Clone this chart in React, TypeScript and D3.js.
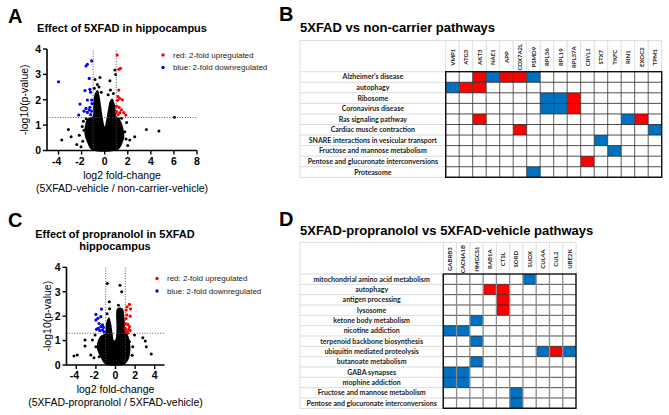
import React from "react";
import * as d3 from "d3";

type P = [number, number];

// ---------- Panel A: volcano (5XFAD vs non-carrier) ----------
const aCloud: P[] = [
  [-1.1, 0.02], [-1.5, 0.3], [-1.75, 0.65], [-1.7, 1.0], [-1.5, 1.25], [-1.05, 1.35],
  [-1.0, 1.7], [-0.95, 2.05], [-0.8, 2.3], [-0.6, 2.38], [-0.45, 2.15], [-0.3, 1.7],
  [-0.15, 1.25], [0.0, 0.95], [0.15, 1.25], [0.3, 1.65], [0.45, 1.95], [0.65, 2.05],
  [0.85, 1.85], [0.97, 1.55], [1.0, 1.35], [1.35, 1.2], [1.6, 0.9], [1.7, 0.55],
  [1.5, 0.25], [1.1, 0.02],
];
const aBlack: P[] = [
  [-3.72, 0.41], [-3.15, 0.83], [-2.91, 0.54], [-2.42, 0.24], [-1.9, 0.36], [-2.2, 0.6],
  [-1.95, 0.95], [-1.85, 1.15], [-1.6, 1.25], [-2.05, 0.15], [-1.8, 0.8], [3.61, 0.83],
  [4.7, 0.77], [6.05, 1.31], [2.6, 0.54], [2.17, 0.41], [1.74, 0.74], [1.46, 1.27],
  [1.9, 1.1], [2.0, 0.2], [1.85, 0.45], [-0.41, 2.88], [-0.84, 2.8], [0.45, 2.75],
  [0.5, 2.38], [0.88, 3.17], [-0.64, 2.6], [-0.5, 2.5], [0.3, 2.2], [0.75, 2.25],
  [-0.9, 2.45], [-1.2, 1.2], [1.2, 1.25], [-0.3, 2.3], [0.95, 3.0],
];
const aRed: P[] = [
  [1.08, 3.76], [1.22, 3.2], [1.37, 3.24], [1.22, 2.38], [1.16, 2.12], [1.31, 2.05],
  [1.53, 2.0], [1.11, 1.98], [1.02, 1.75], [1.25, 1.7], [1.45, 1.6], [1.02, 1.53],
  [1.31, 1.49], [1.66, 1.49], [1.16, 1.41], [1.83, 1.4],
];
const aBlue: P[] = [
  [-4.0, 2.71], [-1.62, 3.33], [-1.5, 3.4], [-1.13, 3.53], [-1.34, 2.84], [-1.28, 2.41],
  [-1.71, 2.36], [-1.22, 2.3], [-1.5, 1.99], [-1.13, 1.99], [-2.14, 1.83], [-1.62, 1.66],
  [-1.28, 1.7], [-1.5, 1.5], [-2.25, 1.4], [-1.79, 1.55], [-1.34, 1.6], [-1.22, 1.41],
  [-1.1, 1.85], [-1.15, 1.55],
];
const aXTicks = [-4, -2, 0, 2, 4, 6, 8];

// ---------- Panel C: volcano (propranolol in 5XFAD) ----------
const cCloud: P[] = [
  [-1.0, 0.02], [-1.5, 0.3], [-1.9, 0.7], [-1.8, 1.0], [-1.5, 1.2], [-1.05, 1.3],
  [-1.0, 1.6], [-0.85, 1.85], [-0.65, 1.95], [-0.45, 1.7], [-0.3, 1.3], [-0.15, 1.0],
  [0.0, 1.05], [0.1, 1.5], [0.15, 2.3], [0.45, 2.35], [0.75, 2.3], [0.9, 2.0],
  [0.97, 1.6], [1.0, 1.35], [1.3, 1.2], [1.5, 0.85], [1.5, 0.5], [1.3, 0.2], [0.9, 0.02],
];
const cBlack: P[] = [
  [-4.24, 0.37], [-3.9, 0.41], [-3.11, 1.02], [-3.11, 0.78], [-2.52, 0.41], [-2.36, 1.02],
  [-2.0, 0.75], [-2.08, 1.23], [-1.67, 0.34], [-2.2, 0.3], [2.79, 1.12], [3.04, 0.98],
  [3.14, 0.75], [3.65, 0.45], [1.94, 1.23], [1.76, 0.75], [1.42, 0.95], [1.7, 0.4],
  [-0.84, 3.34], [0.46, 3.27], [-0.63, 2.59], [0.63, 3.0], [-0.85, 2.1], [-0.6, 2.3],
  [-1.2, 1.15], [1.2, 1.3], [0.3, 2.45],
];
const cRed: P[] = [
  [1.42, 2.48], [1.18, 2.38], [1.53, 2.3], [1.08, 2.25], [1.15, 2.05], [1.5, 2.0],
  [1.08, 1.9], [1.01, 1.7], [1.25, 1.66], [1.42, 1.57], [1.01, 1.5], [1.35, 1.46],
  [1.08, 1.41], [1.5, 1.41], [1.25, 1.33],
];
const cBlue: P[] = [
  [-1.43, 2.29], [-2.0, 2.07], [-1.8, 1.91], [-2.0, 1.84], [-1.5, 1.98], [-1.67, 1.7],
  [-1.33, 1.64], [-1.77, 1.5], [-1.5, 1.57], [-1.23, 1.54], [-1.6, 1.41], [-1.33, 1.43],
  [-1.16, 1.36], [-1.94, 1.46],
];
const cXTicks = [-4, -2, 0, 2, 4];
const yTicks = [0, 1, 2, 3, 4];

// ---------- Panel B: pathway table ----------
const bGenes = ["VMP1", "ATG3", "AKT3", "NAE1", "APP", "COX7A2L", "PSMD9", "RPL36", "RPL19", "RPL37A", "CRYL1", "STX7", "TKFC", "RIN1", "EXOC2", "TPM1"];
const bPathways = [
  "Alzheimer's disease", "autophagy", "Ribosome", "Coronavirus disease", "Ras signaling pathway",
  "Cardiac muscle contraction", "SNARE interactions in vesicular transport",
  "Fructose and mannose metabolism", "Pentose and glucuronate interconversions", "Proteasome",
];
const bMatrix = [
  "..rbrrb.........",
  "brr.............",
  ".......bbr......",
  ".......bbr......",
  "..r..........br.",
  ".....r.........b",
  "...........b....",
  "............b...",
  "..........r.....",
  "......b.........",
];

// ---------- Panel D: pathway table ----------
const dGenes = ["GABRB3", "CACNA1B", "HMGCS1", "RAB1A", "CTSL", "SORD", "SUOX", "CUL4A", "CUL2", "UBE2K"];
const dPathways = [
  "mitochondrial amino acid metabolism", "autophagy", "antigen processing", "lysosome",
  "ketone body metabolism", "nicotine addiction", "terpenoid backbone biosynthesis",
  "ubiquitin mediated proteolysis", "butanoate metabolism", "GABA synapses", "mophine addiction",
  "Fructose and mannose metabolism", "Pentose and glucuronate interconversions",
];
const dMatrix = [
  "......b...",
  "...rr.....",
  "....r.....",
  "....r.....",
  "..b.......",
  "bb........",
  "..b.......",
  ".......brb",
  "..b.......",
  "bb........",
  "bb........",
  ".....b....",
  ".....b....",
];

const RED = "#ff0000";
const BLUE = "#0000ff";
const CELL_RED = "#ff0000";
const CELL_BLUE = "#0070c0";
const ARIAL = "'Liberation Sans', Arial, sans-serif";
const TFONT = "Lato, 'Open Sans', sans-serif";

interface VolcanoProps {
  xDomain: [number, number];
  xRange: [number, number];
  yRange: [number, number];
  xTicks: number[];
  cloud: P[];
  black: P[];
  red: P[];
  blue: P[];
  titleLines: string[];
  titleX: number;
  titleY: number;
  xTitle: string[];
  yTitleX: number;
  legendX: number;
  legendY: number;
}

function Volcano(p: VolcanoProps) {
  const x = d3.scaleLinear().domain(p.xDomain).range(p.xRange);
  const y = d3.scaleLinear().domain([0, 4]).range(p.yRange);
  const area = d3
    .line<P>()
    .x((d) => x(d[0]))
    .y((d) => y(d[1]))
    .curve(d3.curveCatmullRomClosed.alpha(0.5));
  const x0 = p.xRange[0];
  const x1 = p.xRange[1];
  const yb = p.yRange[0];
  const yt = p.yRange[1];
  const xMid = (x0 + x1) / 2;
  return (
    <g>
      {p.titleLines.map((t, i) => (
        <text key={t} x={p.titleX} y={p.titleY + i * 11.5} textAnchor="middle" fontFamily={ARIAL} fontWeight="bold" fontSize={11}>
          {t}
        </text>
      ))}
      <path d={area(p.cloud) || ""} fill="#000" />
      {p.black.map((d, i) => (
        <circle key={"k" + i} cx={x(d[0])} cy={y(d[1])} r={1.5} fill="#000" />
      ))}
      <line x1={x(-1)} x2={x(-1)} y1={yb} y2={yt} stroke="#555" strokeWidth={1} strokeDasharray="1 1.6" />
      <line x1={x(1)} x2={x(1)} y1={yb} y2={yt} stroke="#555" strokeWidth={1} strokeDasharray="1 1.6" />
      <line x1={x0} x2={x1} y1={y(1.3)} y2={y(1.3)} stroke="#555" strokeWidth={1} strokeDasharray="1 1.6" />
      {p.red.map((d, i) => (
        <circle key={"r" + i} cx={x(d[0])} cy={y(d[1])} r={1.6} fill={RED} />
      ))}
      {p.blue.map((d, i) => (
        <circle key={"b" + i} cx={x(d[0])} cy={y(d[1])} r={1.6} fill={BLUE} />
      ))}
      <line x1={x0} x2={x0} y1={yb} y2={yt} stroke="#000" strokeWidth={1.6} />
      <line x1={x0 - 1} x2={x1} y1={yb} y2={yb} stroke="#000" strokeWidth={1.6} />
      {yTicks.map((t) => (
        <g key={"yt" + t}>
          <line x1={x0 - 4} x2={x0} y1={y(t)} y2={y(t)} stroke="#000" strokeWidth={1.4} />
          <text x={x0 - 6} y={y(t) + 3.8} textAnchor="end" fontFamily={ARIAL} fontWeight="bold" fontSize={10.5}>
            {t}
          </text>
        </g>
      ))}
      {p.xTicks.map((t) => (
        <g key={"xt" + t}>
          <line x1={x(t)} x2={x(t)} y1={yb} y2={yb + 4} stroke="#000" strokeWidth={1.4} />
          <text x={x(t) - (t < 0 ? 1.8 : 0)} y={yb + 14} textAnchor="middle" fontFamily={ARIAL} fontWeight="bold" fontSize={10.5}>
            {t < 0 ? "-" + Math.abs(t) : String(t)}
          </text>
        </g>
      ))}
      {p.xTitle.map((t, i) => (
        <text key={t} x={xMid} y={yb + 28 + i * 13} textAnchor="middle" fontFamily={ARIAL} fontSize={10.5}>
          {t}
        </text>
      ))}
      <text
        transform={`translate(${p.yTitleX},${(yb + yt) / 2}) rotate(-90)`}
        textAnchor="middle"
        fontFamily={ARIAL}
        fontSize={10.5}
      >
        -log10(p-value)
      </text>
      <circle cx={p.legendX} cy={p.legendY} r={1.7} fill={RED} />
      <text x={p.legendX + 10} y={p.legendY + 2.8} fontFamily={ARIAL} fontSize={8} fill="#222">
        red: 2-fold upregulated
      </text>
      <circle cx={p.legendX} cy={p.legendY + 12.5} r={1.7} fill={BLUE} />
      <text x={p.legendX + 10} y={p.legendY + 15.3} fontFamily={ARIAL} fontSize={8} fill="#222">
        blue: 2-fold downregulated
      </text>
    </g>
  );
}

interface TableProps {
  genes: string[];
  pathways: string[];
  matrix: string[];
  left: number;
  top: number;
  headerBottom: number;
  colStart: number;
  right: number;
  bottom: number;
  vGray: boolean;
}

function PathTable(p: TableProps) {
  const cx = d3.scaleBand<string>().domain(p.genes).range([p.colStart, p.right]);
  const ry = d3.scaleBand<string>().domain(p.pathways).range([p.headerBottom, p.bottom]);
  const bw = cx.bandwidth();
  const bh = ry.bandwidth();
  const labelCenter = (p.left + p.colStart) / 2;
  const cells: { g: string; pw: string; c: string }[] = [];
  p.matrix.forEach((row, ri) => {
    row.split("").forEach((ch, ci) => {
      if (ch !== ".") cells.push({ g: p.genes[ci], pw: p.pathways[ri], c: ch === "r" ? CELL_RED : CELL_BLUE });
    });
  });
  const light = "#d4d4d4";
  return (
    <g>
      <rect x={p.left} y={p.top} width={p.right - p.left} height={p.bottom - p.top} fill="none" stroke={light} strokeWidth={0.8} />
      {p.genes.map((g) => (
        <line key={"hv" + g} x1={cx(g)!} x2={cx(g)!} y1={p.top} y2={p.headerBottom} stroke={light} strokeWidth={0.8} />
      ))}
      {p.pathways.map((pw) => (
        <line key={"lh" + pw} x1={p.left} x2={p.colStart} y1={ry(pw)!} y2={ry(pw)!} stroke={light} strokeWidth={0.8} />
      ))}
      {cells.map((c, i) => (
        <rect key={"c" + i} x={cx(c.g)!} y={ry(c.pw)!} width={bw} height={bh} fill={c.c} />
      ))}
      {p.pathways.map((pw) => (
        <line key={"gh" + pw} x1={p.colStart} x2={p.right} y1={ry(pw)! + bh} y2={ry(pw)! + bh} stroke="#222" strokeWidth={0.8} />
      ))}
      {p.genes.map((g) => (
        <line
          key={"gv" + g}
          x1={cx(g)!}
          x2={cx(g)!}
          y1={p.headerBottom}
          y2={p.bottom}
          stroke={p.vGray ? "#8a8a8a" : "#333"}
          strokeWidth={p.vGray ? 1.3 : 0.8}
        />
      ))}
      <rect x={p.colStart} y={p.headerBottom} width={p.right - p.colStart} height={p.bottom - p.headerBottom} fill="none" stroke="#111" strokeWidth={1.4} />
      {p.genes.map((g) => (
        <text
          key={"gl" + g}
          transform={`translate(${cx(g)! + bw / 2 + 2.2},${(p.top + p.headerBottom) / 2 + 1}) rotate(-90)`}
          textAnchor="middle"
          fontFamily={TFONT}
          fontWeight="bold"
          fontSize={6}
          fill="#222"
        >
          {g}
        </text>
      ))}
      {p.pathways.map((pw) => (
        <text key={"pl" + pw} x={labelCenter} y={ry(pw)! + bh / 2 + 2.5} textAnchor="middle" fontFamily={TFONT} fontWeight="bold" fontSize={7} fill="#222">
          {pw}
        </text>
      ))}
    </g>
  );
}

export default function App() {
  return (
    <svg width={669} height={415} style={{ display: "block", position: "absolute", left: 0, top: 0, background: "#fff" }}>
      <rect x={0} y={0} width={669} height={415} fill="#fff" />
      <text x={8} y={23} fontFamily={ARIAL} fontWeight="bold" fontSize={20}>A</text>
      <text x={279} y={21} fontFamily={ARIAL} fontWeight="bold" fontSize={20}>B</text>
      <text x={8} y={227} fontFamily={ARIAL} fontWeight="bold" fontSize={20}>C</text>
      <text x={279} y={226} fontFamily={ARIAL} fontWeight="bold" fontSize={20}>D</text>

      <Volcano
        xDomain={[-5, 8]}
        xRange={[47, 197]}
        yRange={[150.5, 49]}
        xTicks={aXTicks}
        cloud={aCloud}
        black={aBlack}
        red={aRed}
        blue={aBlue}
        titleLines={["Effect of 5XFAD in hippocampus"]}
        titleX={122}
        titleY={31.5}
        xTitle={["log2 fold-change", "(5XFAD-vehicle / non-carrier-vehicle)"]}
        yTitleX={28}
        legendX={163}
        legendY={55}
      />
      <Volcano
        xDomain={[-5, 5]}
        xRange={[66.5, 164.5]}
        yRange={[365, 267.3]}
        xTicks={cXTicks}
        cloud={cCloud}
        black={cBlack}
        red={cRed}
        blue={cBlue}
        titleLines={["Effect of propranolol in 5XFAD", "hippocampus"]}
        titleX={115}
        titleY={238}
        xTitle={["log2 fold-change", "(5XFAD-propranolol / 5XFAD-vehicle)"]}
        yTitleX={51}
        legendX={157}
        legendY={278.5}
      />

      <text x={300} y={32} fontFamily={ARIAL} fontWeight="bold" fontSize={13}>5XFAD vs non-carrier pathways</text>
      <PathTable
        genes={bGenes}
        pathways={bPathways}
        matrix={bMatrix}
        left={300}
        top={40.7}
        headerBottom={71.7}
        colStart={445.7}
        right={661.7}
        bottom={177.3}
        vGray={false}
      />

      <text x={300} y={235} fontFamily={ARIAL} fontWeight="bold" fontSize={13}>5XFAD-propranolol vs 5XFAD-vehicle pathways</text>
      <PathTable
        genes={dGenes}
        pathways={dPathways}
        matrix={dMatrix}
        left={300}
        top={242.3}
        headerBottom={274}
        colStart={443.3}
        right={576}
        bottom={408.3}
        vGray={true}
      />
    </svg>
  );
}
